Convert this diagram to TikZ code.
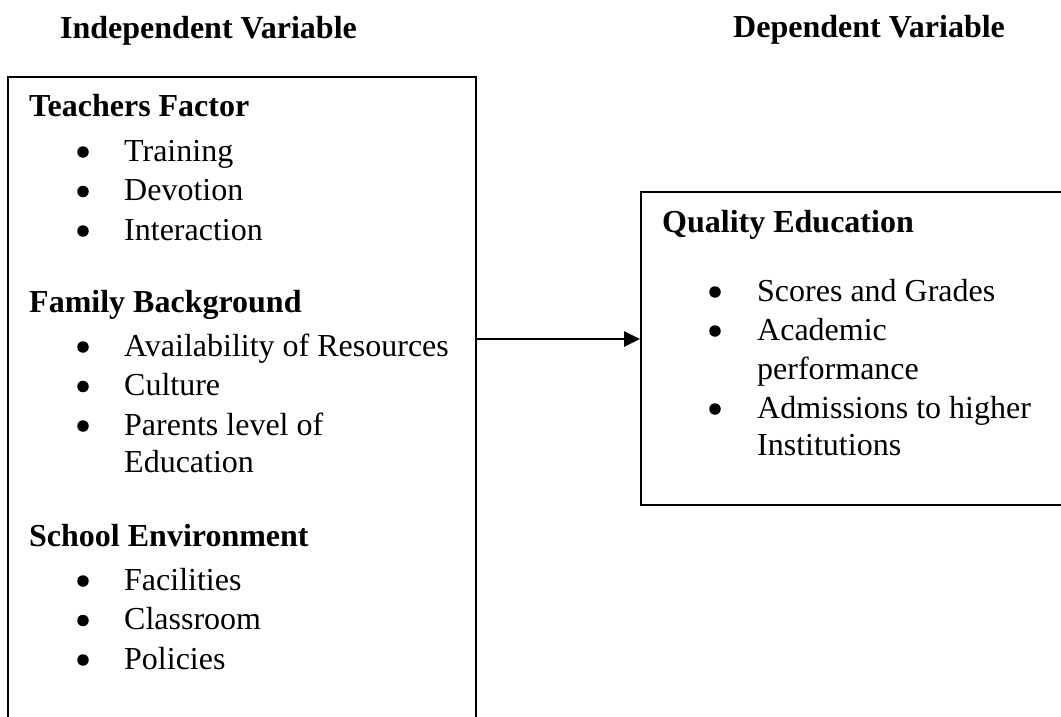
\documentclass[tikz,border=0pt]{standalone}
\usepackage{fontspec}
\setmainfont{Liberation Serif}
\usetikzlibrary{arrows.meta}
\begin{document}
\begin{tikzpicture}[x=1pt,y=-1pt,
  txt/.style={anchor=base west, inner sep=0pt, font=\fontsize{32}{39.5}\selectfont},
  head/.style={anchor=base west, inner sep=0pt, font=\fontsize{32}{39.5}\selectfont\bfseries},
  dot/.style={circle, fill=black, draw=none, inner sep=0pt, minimum size=11.5pt},
  box/.style={draw, line width=1.7pt, inner sep=0pt, anchor=north west},
  link/.style={line width=2.6pt, -{Triangle[length=16pt,width=15pt]}}]
\useasboundingbox (0,0) rectangle (1061,717);
\clip (0,0) rectangle (1061,717);
% column titles
\node[head] (tind) at (60,39) {Independent Variable};
\node[head] (tdep) at (733,38) {Dependent Variable};
% boxes
\node[box, minimum width=468pt, minimum height=700pt] (indep) at (7,76) {};
\node[box, minimum width=460pt, minimum height=313pt] (dep) at (640,191) {};
% left box content
\node[head] (h1) at (29,117) {Teachers Factor};
\node[dot] (b11) at (83,152) {}; \node[txt] (i11) at (124,161) {Training};
\node[dot] (b12) at (83,191.5) {}; \node[txt] (i12) at (124,200.5) {Devotion};
\node[dot] (b13) at (83,231) {}; \node[txt] (i13) at (124,240) {Interaction};
\node[head] (h2) at (29,312) {Family Background};
\node[dot] (b21) at (83,347) {}; \node[txt] (i21) at (124,356) {Availability of Resources};
\node[dot] (b22) at (83,386.5) {}; \node[txt] (i22) at (124,395.5) {Culture};
\node[dot] (b23) at (83,426) {}; \node[txt] (i23) at (124,435) {Parents level of};
\node[txt] (i24) at (124,472) {Education};
\node[head] (h3) at (29,546) {School Environment};
\node[dot] (b31) at (83,581) {}; \node[txt] (i31) at (124,590) {Facilities};
\node[dot] (b32) at (83,620.5) {}; \node[txt] (i32) at (124,629.5) {Classroom};
\node[dot] (b33) at (83,660) {}; \node[txt] (i33) at (124,669) {Policies};
% right box content
\node[head] (hq) at (662,232) {Quality Education};
\node[dot] (q1) at (715,292) {}; \node[txt] (j1) at (757,301) {Scores and Grades};
\node[dot] (q2) at (715,331) {}; \node[txt] (j2) at (757,340) {Academic};
\node[txt] (j3) at (757,379.5) {performance};
\node[dot] (q4) at (715,409) {}; \node[txt] (j4) at (757,418) {Admissions to higher};
\node[txt] (j5) at (757,455) {Institutions};
% connector
\coordinate (arrowrow) at (0,339);
\draw[link] (indep.east |- arrowrow) -- (dep.west |- arrowrow);
\end{tikzpicture}
\end{document}
